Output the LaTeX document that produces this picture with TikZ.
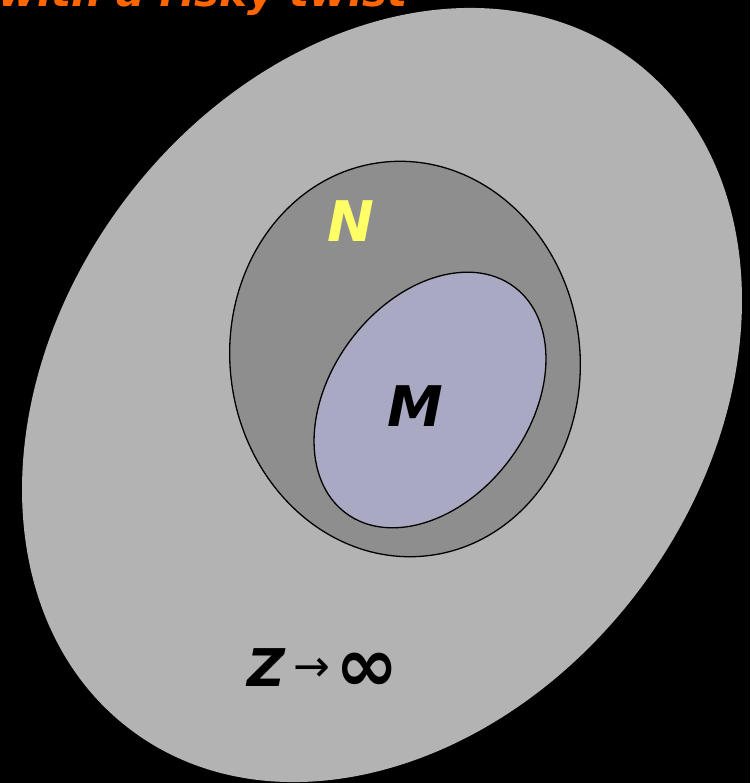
\documentclass[tikz,border=0pt]{standalone}
\usepackage{fontspec}
\setmainfont{DejaVu Sans}
\newfontfamily\lbl{DejaVu Sans}[BoldItalicFont={DejaVu Sans Bold Oblique}]
\definecolor{outerg}{HTML}{B3B3B3}
\definecolor{midg}{HTML}{8E8E8E}
\definecolor{innerl}{HTML}{A9A9C3}
\definecolor{titleor}{HTML}{FF6600}
\definecolor{nyel}{HTML}{FFFF66}
\tikzset{
  biglbl/.style={inner sep=0pt, font=\lbl\bfseries\itshape\fontsize{56}{60}\selectfont},
  setline/.style={draw=black, line width=1.3pt}
}
\begin{document}
\begin{tikzpicture}[x=1pt,y=1pt]
\useasboundingbox (0,0) rectangle (750,-783);
\clip (0,0) rectangle (750,-783);
\fill[black] (0,0) rectangle (750,-783);
% outer set
\fill[outerg, rotate around={53.25:(382,-395)}] (382,-395) ellipse [x radius=418.6pt, y radius=322.7pt];
% N
\path[fill=midg, setline, rotate around={6.6:(405,-359)}] (405,-359) ellipse [x radius=175pt, y radius=198pt];
% M
\path[fill=innerl, setline, rotate around={53.4:(430,-400)}] (430,-400) ellipse [x radius=141pt, y radius=99.5pt];
% title
\node[anchor=base east, inner sep=0pt, text=titleor, font=\lbl\bfseries\itshape\fontsize{42}{46}\selectfont] (title) at (408,-7) {with a risky twist};
% labels
\node[biglbl, text=nyel] (N) at (351,-221) {N};
\node[biglbl, text=black] (M) at (415,-406) {M};
\node[biglbl, text=black, font=\lbl\bfseries\itshape\fontsize{52}{56}\selectfont] (Z) at (266,-668) {Z};
\node[inner sep=0pt, text=black, font=\lbl\fontsize{44}{48}\selectfont] (arr) at (312,-670) {→};
\node[inner sep=0pt, text=black, font=\lbl\bfseries\fontsize{76}{80}\selectfont] (inf) at (367,-672) {∞};
\end{tikzpicture}
\end{document}
